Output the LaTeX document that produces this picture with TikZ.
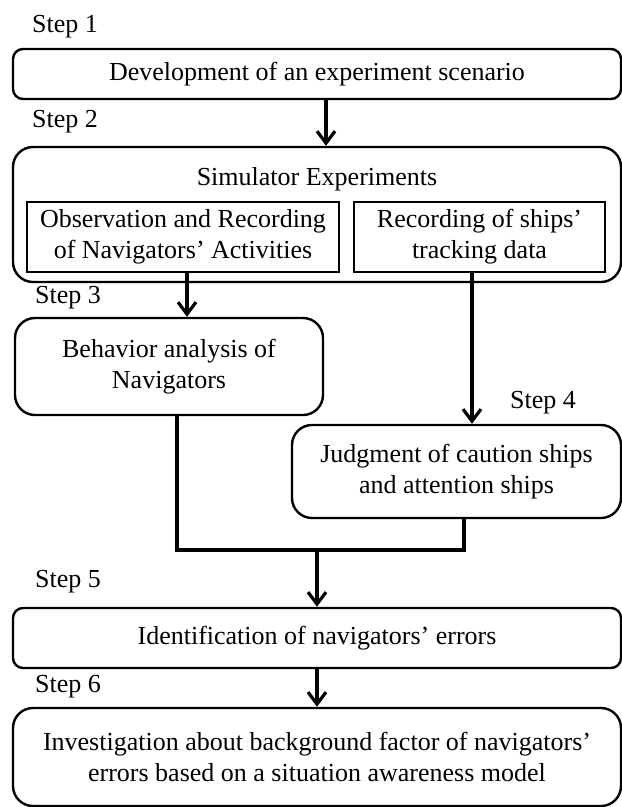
\documentclass[tikz,border=0pt]{standalone}
\usepackage{fontspec}
\setmainfont{Liberation Serif}
\usetikzlibrary{arrows.meta}
\begin{document}
\begin{tikzpicture}[x=1pt,y=-1pt,
  font=\fontsize{26}{31}\selectfont,
  box/.style={draw, line width=2.4pt, align=center, inner sep=0pt, rounded corners=20pt},
  sbox/.style={draw, line width=2.4pt, align=center, inner sep=0pt, rounded corners=10pt},
  ibox/.style={draw, line width=2.4pt, align=center, inner sep=0pt},
  steplbl/.style={anchor=base west, inner sep=0pt},
  conn/.style={line width=3.2pt, line join=miter},
  arr/.style={conn, -{Straight Barb[length=12pt,width=18pt]}}]
\useasboundingbox (0,0) rectangle (622,807);
% boxes
\node[sbox, minimum width=608pt, minimum height=50pt] (b1) at (317,74) {Development of an experiment scenario};
\node[box, minimum width=608pt, minimum height=135pt] (b2) at (317,214.5) {};
\node[anchor=base, inner sep=0pt] (sim) at (317,185) {Simulator Experiments};
\node[ibox, minimum width=312pt, minimum height=70pt] (ia) at (183,237) {Observation and Recording\\of Navigators' Activities};
\node[ibox, minimum width=251pt, minimum height=70pt] (ib) at (479.5,237) {Recording of ships'\\tracking data};
\node[box, minimum width=308pt, minimum height=97pt] (b3) at (169,366.5) {Behavior analysis of\\Navigators};
\node[box, minimum width=329pt, minimum height=93pt] (b4) at (456.5,471.5) {Judgment of caution ships\\and attention ships};
\node[sbox, minimum width=608pt, minimum height=60pt] (b5) at (317,638) {Identification of navigators' errors};
\node[box, minimum width=608pt, minimum height=98pt] (b6) at (317,757) {Investigation about background factor of navigators'\\errors based on a situation awareness model};
% step labels
\node[steplbl] (s1) at (32,32) {Step 1};
\node[steplbl] (s2) at (32,127) {Step 2};
\node[steplbl] (s3) at (35,303) {Step 3};
\node[steplbl] (s4) at (510,408) {Step 4};
\node[steplbl] (s5) at (35,587) {Step 5};
\node[steplbl] (s6) at (35,692) {Step 6};
% connector coordinates
\coordinate (x1) at (326,0);
\coordinate (xa) at (187,0);
\coordinate (xb) at (472,0);
\coordinate (x3) at (177,0);
\coordinate (x4) at (464,0);
\coordinate (mrg) at (317,550);
% connectors
\draw[arr] (b1.south -| x1) -- (b2.north -| x1);
\draw[arr] (ia.south -| xa) -- (b3.north -| xa);
\draw[arr] (ib.south -| xb) -- (b4.north -| xb);
\draw[conn] (b3.south -| x3) -- (x3 |- mrg) -- (x4 |- mrg) -- (b4.south -| x4);
\draw[arr] (mrg) -- (b5.north -| mrg);
\draw[arr] (b5.south -| mrg) -- (b6.north -| mrg);
\end{tikzpicture}
\end{document}
